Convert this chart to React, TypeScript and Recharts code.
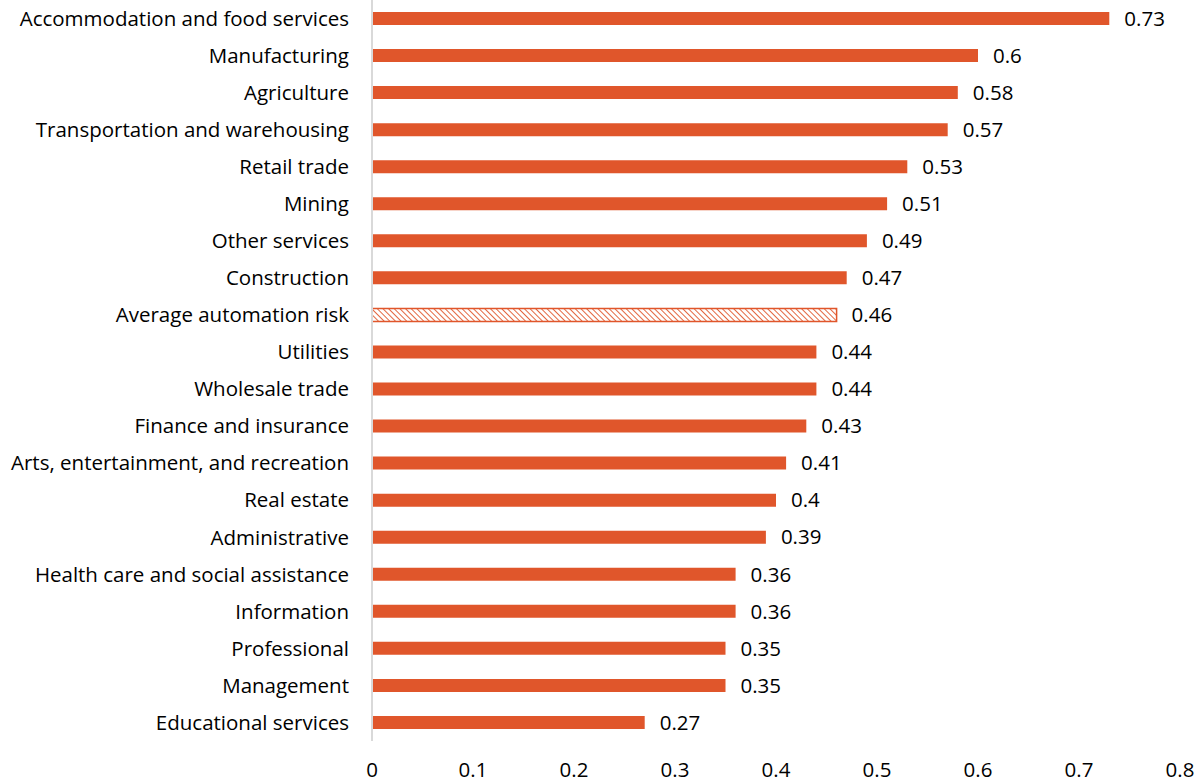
import { BarChart, Bar, XAxis, YAxis, Cell, LabelList } from "recharts";

const industries = [
    "Accommodation and food services",
    "Manufacturing",
    "Agriculture",
    "Transportation and warehousing",
    "Retail trade",
    "Mining",
    "Other services",
    "Construction",
    "Average automation risk",
    "Utilities",
    "Wholesale trade",
    "Finance and insurance",
    "Arts, entertainment, and recreation",
    "Real estate",
    "Administrative",
    "Health care and social assistance",
    "Information",
    "Professional",
    "Management",
    "Educational services",
];

const risk = [0.73, 0.6, 0.58, 0.57, 0.53, 0.51, 0.49, 0.47, 0.46, 0.44, 0.44, 0.43, 0.41, 0.4, 0.39, 0.36, 0.36, 0.35, 0.35, 0.27];

const xTicks = [0, 0.1, 0.2, 0.3, 0.4, 0.5, 0.6, 0.7, 0.8];

const averageLabel = "Average automation risk";

const ORANGE = "#E0562B";
const FONT = "'Open Sans', sans-serif";
const FS = 20.5;

export default function App() {
    const data = industries.map((name, i) => ({ name, risk: risk[i] }));
    return (
        <div style={{ position: "absolute", left: 0, top: 0, background: "#fff" }}>
            <BarChart
                width={1195}
                height={784}
                data={data}
                layout="vertical"
                barSize={13}
                margin={{ top: 0, right: 15, bottom: 0, left: 0 }}
                style={{ fontFamily: FONT }}
            >
                <defs>
                    <pattern id="hatch" width="4" height="4" patternUnits="userSpaceOnUse" patternTransform="rotate(-45)">
                        <rect width="4" height="4" fill="#fff" />
                        <line x1="0" y1="0" x2="0" y2="4" stroke={ORANGE} strokeWidth={1.8} />
                    </pattern>
                </defs>
                <XAxis
                    type="number"
                    domain={[0, 0.8]}
                    ticks={xTicks}
                    axisLine={false}
                    tickLine={false}
                    tickSize={0}
                    tickMargin={21}
                    height={43}
                    interval={0}
                    tick={{ fontSize: FS, fill: "#000", fontFamily: FONT }}
                />
                <YAxis
                    type="category"
                    dataKey="name"
                    width={372}
                    tickLine={false}
                    tickSize={0}
                    tickMargin={23}
                    interval={0}
                    axisLine={{ stroke: "#d9d9d9", strokeWidth: 2 }}
                    tick={{ fontSize: FS, fill: "#000", fontFamily: FONT }}
                />
                <Bar dataKey="risk" isAnimationActive={false}>
                    {data.map((d) => (
                        <Cell
                            key={d.name}
                            fill={d.name === averageLabel ? "url(#hatch)" : ORANGE}
                            stroke={d.name === averageLabel ? ORANGE : "none"}
                            strokeWidth={d.name === averageLabel ? 1.5 : 0}
                        />
                    ))}
                    <LabelList
                        dataKey="risk"
                        position="right"
                        offset={15}
                        style={{ fontSize: FS, fill: "#000", fontFamily: FONT }}
                    />
                </Bar>
            </BarChart>
        </div>
    );
}
